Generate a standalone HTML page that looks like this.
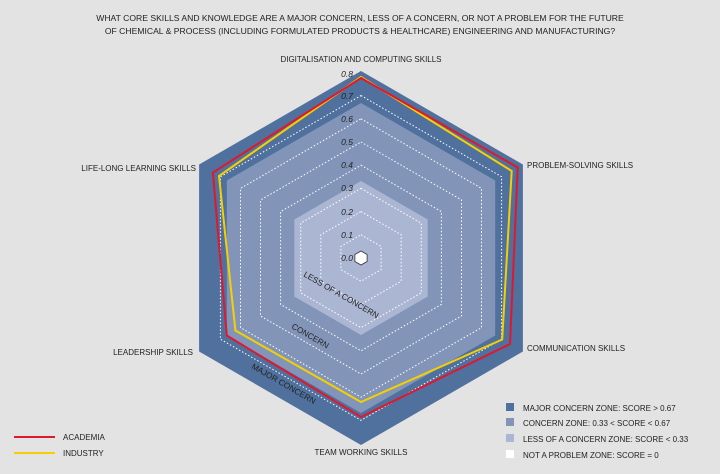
<!DOCTYPE html>
<html><head><meta charset="utf-8"><style>
html,body{margin:0;padding:0;background:#e3e3e3}
svg{display:block}
text{font-family:"Liberation Sans",Arial,sans-serif;fill:#222}
</style></head><body>
<svg width="720" height="474" viewBox="0 0 720 474" xmlns="http://www.w3.org/2000/svg">
<rect width="720" height="474" fill="#e3e3e3"/>
<text x="360" y="21" font-size="8.6" text-anchor="middle">WHAT CORE SKILLS AND KNOWLEDGE ARE A MAJOR CONCERN, LESS OF A CONCERN, OR NOT A PROBLEM FOR THE FUTURE</text>
<text x="360" y="34" font-size="8.6" text-anchor="middle">OF CHEMICAL &amp; PROCESS (INCLUDING FORMULATED PRODUCTS &amp; HEALTHCARE) ENGINEERING AND MANUFACTURING?</text>
<g transform="translate(361,258)">
<polygon points="0,-187 161.9,-93.5 161.9,93.5 0,187 -161.9,93.5 -161.9,-93.5" fill="#50709d"/>
<polygon points="0,-155 134.2,-77.5 134.2,77.5 0,155 -134.2,77.5 -134.2,-77.5" fill="#8295b9"/>
<polygon points="0,-77 66.7,-38.5 66.7,38.5 0,77 -66.7,38.5 -66.7,-38.5" fill="#abb6d2"/>
<polygon points="0,-23.2 20.1,-11.6 20.1,11.6 0,23.2 -20.1,11.6 -20.1,-11.6" fill="none" stroke="#fff" stroke-dasharray="1.5,2"/>
<polygon points="0,-46.4 40.2,-23.2 40.2,23.2 0,46.4 -40.2,23.2 -40.2,-23.2" fill="none" stroke="#fff" stroke-dasharray="1.5,2"/>
<polygon points="0,-69.6 60.3,-34.8 60.3,34.8 0,69.6 -60.3,34.8 -60.3,-34.8" fill="none" stroke="#fff" stroke-dasharray="1.5,2"/>
<polygon points="0,-92.8 80.4,-46.4 80.4,46.4 0,92.8 -80.4,46.4 -80.4,-46.4" fill="none" stroke="#fff" stroke-dasharray="1.5,2"/>
<polygon points="0,-116 100.5,-58 100.5,58 0,116 -100.5,58 -100.5,-58" fill="none" stroke="#fff" stroke-dasharray="1.5,2"/>
<polygon points="0,-139.2 120.5,-69.6 120.5,69.6 0,139.2 -120.5,69.6 -120.5,-69.6" fill="none" stroke="#fff" stroke-dasharray="1.5,2"/>
<polygon points="0,-162.4 140.6,-81.2 140.6,81.2 0,162.4 -140.6,81.2 -140.6,-81.2" fill="none" stroke="#fff" stroke-dasharray="1.5,2"/>
<polygon points="0,-7 6.1,-3.5 6.1,3.5 0,7 -6.1,3.5 -6.1,-3.5" fill="#fff" stroke="#333" stroke-width="0.8"/>
</g>
<polygon points="361,77 511.7,171 502.2,339.5 361,402 235.4,330.5 219,176" fill="none" stroke="#f5d000" stroke-width="2"/>
<polygon points="361,78 517.7,167.5 510,344 361,417 226.8,335.5 212.9,172.5" fill="none" stroke="#e0182d" stroke-width="2"/>
<g font-size="8.5" font-style="italic" fill="#333" text-anchor="end">
<text x="353" y="77">0.8</text><text x="353" y="99">0.7</text><text x="353" y="122">0.6</text>
<text x="353" y="145">0.5</text><text x="353" y="168">0.4</text><text x="353" y="191">0.3</text>
<text x="353" y="215">0.2</text><text x="353" y="238">0.1</text><text x="353" y="261">0.0</text>
</g>
<g font-size="8.2" fill="#111">
<text transform="translate(303,276) rotate(30)">LESS OF A CONCERN</text>
<text transform="translate(291,328) rotate(30)">CONCERN</text>
<text transform="translate(251,368) rotate(30)">MAJOR CONCERN</text>
</g>
<g font-size="8">
<text x="361" y="62" text-anchor="middle">DIGITALISATION AND COMPUTING SKILLS</text>
<text x="527" y="168">PROBLEM-SOLVING SKILLS</text>
<text x="527" y="351">COMMUNICATION SKILLS</text>
<text x="361" y="455" text-anchor="middle">TEAM WORKING SKILLS</text>
<text x="193" y="355" text-anchor="end">LEADERSHIP SKILLS</text>
<text x="196" y="171" text-anchor="end">LIFE-LONG LEARNING SKILLS</text>
<text x="63" y="440">ACADEMIA</text>
<text x="63" y="456">INDUSTRY</text>
<text x="523" y="411">MAJOR CONCERN ZONE: SCORE &gt; 0.67</text>
<text x="523" y="426">CONCERN ZONE: 0.33 &lt; SCORE &lt; 0.67</text>
<text x="523" y="442">LESS OF A CONCERN ZONE: SCORE &lt; 0.33</text>
<text x="523" y="458">NOT A PROBLEM ZONE: SCORE = 0</text>
</g>
<line x1="14" y1="437" x2="55" y2="437" stroke="#e0182d" stroke-width="2"/>
<line x1="14" y1="453" x2="55" y2="453" stroke="#f5d000" stroke-width="2"/>
<rect x="506" y="403" width="8" height="8" fill="#50709d"/>
<rect x="506" y="418" width="8" height="8" fill="#8295b9"/>
<rect x="506" y="434" width="8" height="8" fill="#abb6d2"/>
<rect x="506" y="450" width="8" height="8" fill="#fff"/>
</svg>
</body></html>
